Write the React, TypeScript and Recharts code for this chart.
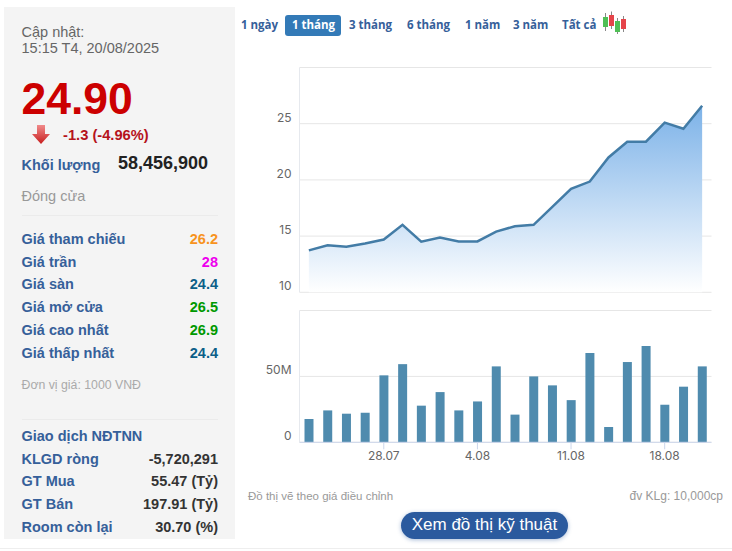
import React from 'react';
import { Area, Bar, CartesianGrid, ComposedChart, XAxis, YAxis } from 'recharts';

const dates = ['22.07', '23.07', '24.07', '25.07', '28.07', '29.07', '30.07', '31.07', '1.08', '4.08', '5.08', '6.08', '7.08', '8.08', '11.08', '12.08', '13.08', '14.08', '15.08', '18.08', '19.08', '20.08'];
const prices = [13.73, 14.18, 14.06, 14.35, 14.7, 16.0, 14.5, 14.87, 14.53, 14.53, 15.4, 15.88, 16.0, 17.6, 19.2, 19.85, 22.0, 23.4, 23.4, 25.1, 24.55, 26.6];
const volumes = [17.7, 24.2, 21.7, 22.5, 50.8, 59.3, 27.8, 38.1, 24.2, 31, 57.6, 21, 50, 43.2, 32, 67.7, 11.6, 60.9, 73, 28.5, 42.2, 57.6];
const dateTicks = ['28.07', '4.08', '11.08', '18.08'];
const priceTicks = [10, 15, 20, 25, 30];
const volumeTicks = [0, 50, 100];
const ranges = ['1 ngày', '1 tháng', '3 tháng', '6 tháng', '1 năm', '3 năm', 'Tất cả'];
const rangeX = [241, 292, 349, 407, 465, 513, 562];

const priceRows = [
    { label: 'Giá tham chiếu', value: '26.2', color: '#f7931e', y: 239 },
    { label: 'Giá trần', value: '28', color: '#ee00ee', y: 262 },
    { label: 'Giá sàn', value: '24.4', color: '#0b5f88', y: 284 },
    { label: 'Giá mở cửa', value: '26.5', color: '#009900', y: 307 },
    { label: 'Giá cao nhất', value: '26.9', color: '#009900', y: 330 },
    { label: 'Giá thấp nhất', value: '24.4', color: '#0b5f88', y: 353 },
];
const foreignRows = [
    { label: 'KLGD ròng', value: '-5,720,291', y: 459 },
    { label: 'GT Mua', value: '55.47 (Tỷ)', y: 481 },
    { label: 'GT Bán', value: '197.91 (Tỷ)', y: 504 },
    { label: 'Room còn lại', value: '30.70 (%)', y: 527 },
];

const chartData = dates.map((date, i) => ({ date, price: prices[i], volume: volumes[i] }));

const BLUE = '#36609a';
const ARIAL = '"Liberation Sans", Arial, sans-serif';
const AXIS_FONT = 'Inter, sans-serif';

// text placed by its vertical centre
const Txt = ({ x, y, right, size = 14.5, bold, color = '#333', font = ARIAL, children }: any) => (
    <div
        style={{
            position: 'absolute',
            top: y - 10,
            height: 20,
            lineHeight: '20px',
            left: right === undefined ? x : undefined,
            right: right === undefined ? undefined : 732 - right,
            fontFamily: font,
            fontSize: size,
            fontWeight: bold ? 700 : 400,
            color,
            whiteSpace: 'nowrap',
        }}
    >
        {children}
    </div>
);

const Rule = ({ y }: { y: number }) => (
    <div style={{ position: 'absolute', left: 22, width: 196, top: y, height: 1, background: '#ebebeb' }} />
);

const YTick = ({ x, y, payload, hideValue, format }: any) => {
    if (payload.value === hideValue) return null;
    return (
        <text x={x} y={y - 2} textAnchor="end" fontFamily={AXIS_FONT} fontSize={12} fill="#666">
            {format ? format(payload.value) : payload.value}
        </text>
    );
};

const CandleIcon = () => (
    <svg width={28} height={26} style={{ position: 'absolute', left: 601, top: 10 }}>
        <g strokeWidth={1}>
            <line x1={4.5} x2={4.5} y1={3} y2={21} stroke="#888" />
            <rect x={2} y={7} width={5} height={10} fill="#4fbf55" />
            <line x1={10.5} x2={10.5} y1={1.5} y2={19} stroke="#888" />
            <rect x={8} y={5} width={5} height={11} fill="#e5444a" />
            <line x1={16.5} x2={16.5} y1={8} y2={24} stroke="#888" />
            <rect x={14} y={11} width={5} height={11} fill="#4fbf55" />
            <line x1={22.5} x2={22.5} y1={6} y2={22} stroke="#888" />
            <rect x={20} y={9} width={5} height={10} fill="#e5444a" />
        </g>
    </svg>
);

const DownArrow = () => (
    <svg width={20} height={20} style={{ position: 'absolute', left: 31, top: 125 }}>
        <defs>
            <linearGradient id="arrowFill" x1="0" y1="0" x2="0" y2="1">
                <stop offset="0%" stopColor="#f08a8a" />
                <stop offset="100%" stopColor="#c81e1e" />
            </linearGradient>
        </defs>
        <path d="M6 0 H14 V9 H19 L10 19 L1 9 H6 Z" fill="url(#arrowFill)" />
    </svg>
);

const App = () => {
    return (
        <div style={{ position: 'absolute', left: 0, top: 0, width: 732, height: 551, background: '#fff', overflow: 'hidden' }}>
            <div style={{ position: 'absolute', left: 4, top: 7, width: 231, height: 532, background: '#f4f4f4' }} />

            <Txt x={21.5} y={32} color="#666">Cập nhật:</Txt>
            <Txt x={21.5} y={48} color="#666">15:15 T4, 20/08/2025</Txt>
            <Txt x={21.5} y={99} size={44.5} bold color="#cc0000">24.90</Txt>
            <DownArrow />
            <Txt x={63} y={135} size={14.7} bold color="#b5121b">-1.3 (-4.96%)</Txt>
            <Txt x={21.5} y={165} bold color={BLUE}>Khối lượng</Txt>
            <Txt x={118} y={163} size={18} bold color="#222">58,456,900</Txt>
            <Txt x={21.5} y={196} color="#999">Đóng cửa</Txt>
            <Rule y={215} />

            {priceRows.map((row) => (
                <React.Fragment key={row.label}>
                    <Txt x={21.5} y={row.y} bold color={BLUE}>{row.label}</Txt>
                    <Txt right={218} y={row.y} bold color={row.color}>{row.value}</Txt>
                </React.Fragment>
            ))}

            <Txt x={21.5} y={385} size={12.3} color="#aaa">Đơn vị giá: 1000 VNĐ</Txt>
            <Rule y={419} />
            <Txt x={21.5} y={436} bold color={BLUE}>Giao dịch NĐTNN</Txt>
            {foreignRows.map((row) => (
                <React.Fragment key={row.label}>
                    <Txt x={21.5} y={row.y} bold color={BLUE}>{row.label}</Txt>
                    <Txt right={218} y={row.y} bold color="#333">{row.value}</Txt>
                </React.Fragment>
            ))}

            <div style={{ position: 'absolute', left: 285, top: 15, width: 56, height: 21, borderRadius: 3, background: '#337ab7' }} />
            {ranges.map((range, i) => (
                <Txt key={range} x={rangeX[i]} y={25} size={11.5} bold font='"Open Sans", sans-serif' color={range === '1 tháng' ? '#fff' : BLUE}>
                    {range}
                </Txt>
            ))}
            <CandleIcon />

            <div style={{ position: 'absolute', left: 235, top: 60 }}>
                <ComposedChart width={497} height={240} data={chartData} margin={{ top: 7.5, right: 20.5, bottom: 7.7, left: 0 }}>
                    <defs>
                        <linearGradient id="priceFill" x1="0" y1="0" x2="0" y2="1">
                            <stop offset="0%" stopColor="#7cb2e8" />
                            <stop offset="100%" stopColor="#ffffff" />
                        </linearGradient>
                    </defs>
                    <CartesianGrid vertical={false} stroke="#e6e6e6" />
                    <XAxis dataKey="date" hide scale="band" />
                    <YAxis
                        width={64.5}
                        domain={[10, 30]}
                        ticks={priceTicks}
                        interval={0}
                        tickLine={false}
                        axisLine={{ stroke: '#e6e9ee' }}
                        tick={<YTick hideValue={30} />}
                    />
                    <Area
                        dataKey="price"
                        type="linear"
                        stroke="#437ca6"
                        strokeWidth={2.5}
                        fill="url(#priceFill)"
                        fillOpacity={1}
                        dot={false}
                        activeDot={false}
                        isAnimationActive={false}
                    />
                </ComposedChart>
            </div>

            <div style={{ position: 'absolute', left: 235, top: 303 }}>
                <ComposedChart width={497} height={175} data={chartData} margin={{ top: 7.5, right: 20.5, bottom: 0, left: 0 }}>
                    <CartesianGrid vertical={false} stroke="#e6e6e6" />
                    <XAxis
                        dataKey="date"
                        ticks={dateTicks}
                        interval={0}
                        height={35.7}
                        tickSize={7}
                        tickLine={{ stroke: '#ccd6eb' }}
                        axisLine={{ stroke: '#ccd6eb' }}
                        tick={{ fontFamily: AXIS_FONT, fontSize: 12, fill: '#666' }}
                    />
                    <YAxis
                        width={64.5}
                        domain={[0, 100]}
                        ticks={volumeTicks}
                        interval={0}
                        tickLine={false}
                        axisLine={{ stroke: '#e6e9ee' }}
                        tick={<YTick hideValue={100} format={(v: number) => (v === 0 ? '0' : `${v}M`)} />}
                    />
                    <Bar dataKey="volume" fill="#4f8bae" barSize={9} isAnimationActive={false} />
                </ComposedChart>
            </div>

            <Txt x={248} y={496} size={11.5} color="#999">Đồ thị vẽ theo giá điều chỉnh</Txt>
            <Txt right={723} y={496} size={12} color="#999">đv KLg: 10,000cp</Txt>

            <div
                style={{
                    position: 'absolute',
                    left: 401,
                    top: 512,
                    width: 167,
                    height: 27,
                    borderRadius: 14,
                    background: '#2b5a9e',
                    boxShadow: '0 1px 4px rgba(43,90,158,0.4)',
                    color: '#fff',
                    fontFamily: ARIAL,
                    fontSize: 17,
                    lineHeight: '26px',
                    textAlign: 'center',
                }}
            >
                Xem đồ thị kỹ thuật
            </div>

            <div style={{ position: 'absolute', left: 0, width: 732, top: 548, height: 1, background: '#eeeeee' }} />
        </div>
    );
};

export default App;
